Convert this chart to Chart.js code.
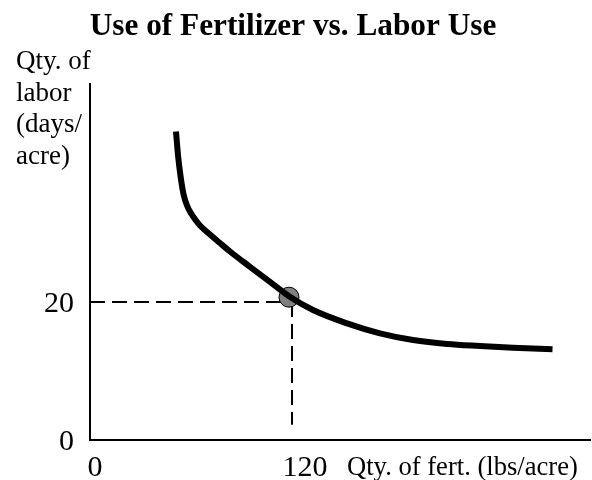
<!DOCTYPE html>
<html><head><meta charset="utf-8">
<script src="https://cdn.jsdelivr.net/npm/chart.js@4"></script>
<style>html,body{margin:0;padding:0;background:#fff}</style>
</head><body>
<canvas id="c" width="592" height="480"></canvas>
<script>
// ---- data ----
const curveX = [51.08, 52.45, 53.94, 55.54, 57.62, 60.29, 62.96, 65.34, 71.28, 77.22, 83.16, 95.04, 106.92, 118.21, 132.46, 152.66, 172.26, 191.86, 212.06, 231.66, 251.26, 274.73];
const curveY = [44.71, 40.87, 37.97, 35.65, 33.99, 32.75, 31.81, 31.09, 29.78, 28.55, 27.32, 25.10, 22.91, 20.84, 18.84, 16.91, 15.46, 14.49, 13.91, 13.62, 13.38, 13.14];
const markX = [118.2];
const markY = [20.7];
const guideHX = [0, 120];
const guideHY = [20, 20];
const guideVX = [120, 120];
const guideVY = [20, 2.2];
const xTickValues = [0, 120];
const xTickLabels = ['0', '120'];
const yTickValues = [0, 20];
const yTickLabels = ['0', '20'];
const titleText = 'Use of Fertilizer vs. Labor Use';
const xAxisLabel = 'Qty. of fert. (lbs/acre)';
const yAxisLabelLines = ['Qty. of', 'labor', '(days/', 'acre)'];

const toPts = (xs, ys) => xs.map((x, i) => ({x: x, y: ys[i]}));

// ---- styles ----
const FONT = '"Liberation Serif", "Times New Roman", serif';
const xTickDx = [5, 13];

const textPlugin = {
  id: 'texts',
  afterDraw(chart) {
    const ctx = chart.ctx;
    const xs = chart.scales.x, ys = chart.scales.y;
    ctx.save();
    ctx.fillStyle = '#000';
    // title
    ctx.font = 'bold 31.3px ' + FONT;
    ctx.textAlign = 'center';
    ctx.textBaseline = 'alphabetic';
    ctx.fillText(titleText, 293, 35);
    // y axis label
    ctx.font = '27px ' + FONT;
    ctx.textAlign = 'left';
    yAxisLabelLines.forEach((t, i) => ctx.fillText(t, 16, 69 + i * 31.6));
    // y ticks
    ctx.font = '30px ' + FONT;
    ctx.textAlign = 'right';
    ctx.textBaseline = 'middle';
    yTickValues.forEach((v, i) => ctx.fillText(yTickLabels[i], xs.left - 16, ys.getPixelForValue(v) + 2));
    // x ticks
    ctx.textAlign = 'center';
    xTickValues.forEach((v, i) => ctx.fillText(xTickLabels[i], xs.getPixelForValue(v) + xTickDx[i], ys.bottom + 28));
    // x axis label
    ctx.font = '26.6px ' + FONT;
    ctx.textAlign = 'left';
    ctx.fillText(xAxisLabel, 347, ys.bottom + 28);
    ctx.restore();
  }
};

new Chart(document.getElementById('c'), {
  type: 'scatter',
  data: {
    datasets: [
      {
        data: toPts(curveX, curveY), showLine: true, borderColor: '#000', borderWidth: 6,
        pointRadius: 0, cubicInterpolationMode: 'monotone', fill: false, order: 1,
        borderCapStyle: 'butt', borderJoinStyle: 'round'
      },
      {
        data: toPts(markX, markY), showLine: false, pointRadius: 10, pointBackgroundColor: '#808080',
        pointBorderColor: '#000', pointBorderWidth: 1, order: 2
      },
      {
        data: toPts(guideHX, guideHY), showLine: true, borderColor: '#000', borderWidth: 2,
        borderDash: [15, 7], pointRadius: 0, order: 3
      },
      {
        data: toPts(guideVX, guideVY), showLine: true, borderColor: '#000', borderWidth: 2,
        borderDash: [15, 7], pointRadius: 0, order: 3
      }
    ]
  },
  options: {
    responsive: false,
    devicePixelRatio: 1,
    animation: false,
    layout: {autoPadding: false, padding: {left: 90, right: 2, top: 84, bottom: 40}},
    plugins: {legend: {display: false}, tooltip: {enabled: false}, title: {display: false}},
    scales: {
      x: {
        type: 'linear', min: 0, max: 297,
        grid: {display: false, drawTicks: false},
        ticks: {display: false},
        border: {display: true, color: '#000', width: 2}
      },
      y: {
        type: 'linear', min: 0, max: 51.6,
        grid: {display: false, drawTicks: false},
        ticks: {display: false},
        border: {display: true, color: '#000', width: 2}
      }
    }
  },
  plugins: [textPlugin]
});
</script>
</body></html>
